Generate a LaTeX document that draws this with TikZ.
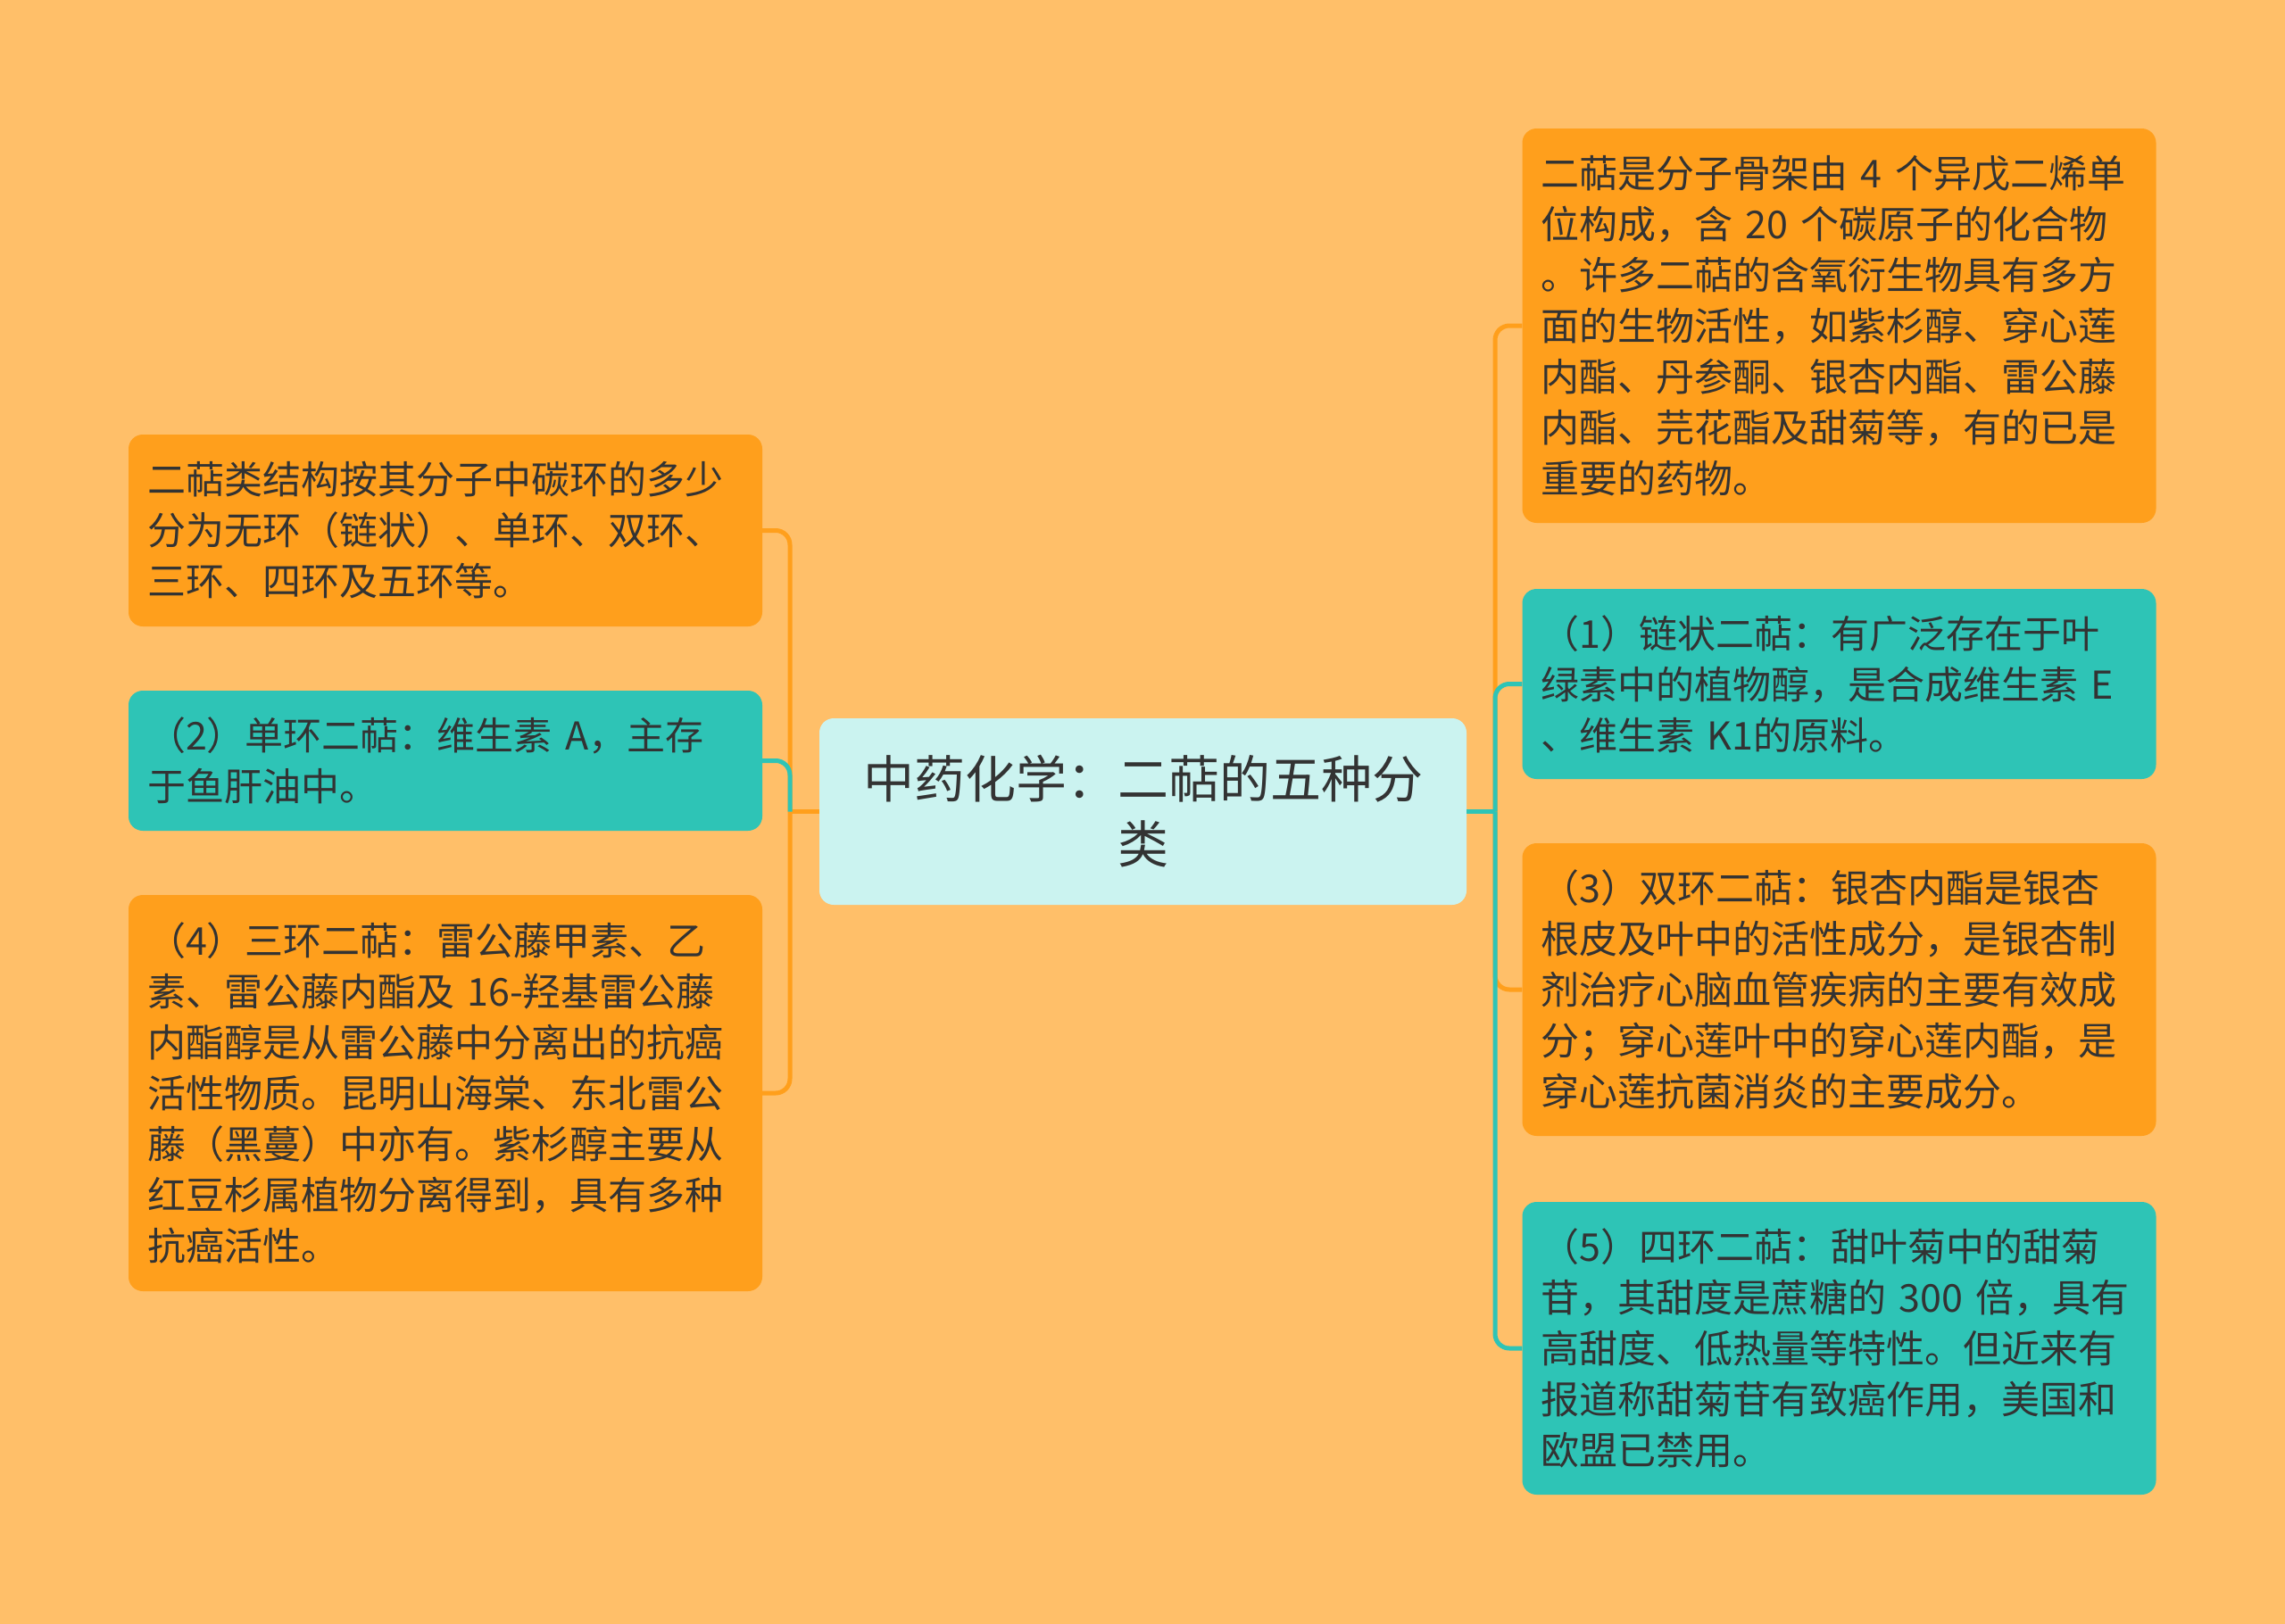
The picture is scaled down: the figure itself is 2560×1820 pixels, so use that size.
\documentclass[tikz,border=0pt]{standalone}
\usepackage{fontspec}
\setmainfont{Noto Sans CJK SC}
\usetikzlibrary{positioning}

\definecolor{bgorange}{HTML}{FFBF69}
\definecolor{boxorange}{HTML}{FF9F1C}
\definecolor{boxteal}{HTML}{2EC4B6}
\definecolor{topiccyan}{HTML}{CBF3F0}
\definecolor{textgray}{HTML}{333333}

\tikzset{
 box/.style={rounded corners=16pt,inner xsep=21pt,inner ysep=0pt,text width=668pt,align=left,text=textgray,font=\fontsize{43}{57}\selectfont},
 orangebox/.style={box,fill=boxorange},
 tealbox/.style={box,fill=boxteal},
 topic/.style={rounded corners=16pt,fill=topiccyan,minimum width=725pt,minimum height=209pt,align=center,text=textgray,font=\fontsize{57}{73}\selectfont},
 orangeline/.style={draw=boxorange,line width=5pt,rounded corners=16pt},
 tealline/.style={draw=boxteal,line width=5pt,rounded corners=16pt}
}

\begin{document}
\begin{tikzpicture}[x=1pt,y=-1pt]
 \useasboundingbox (0,0) rectangle (2560,1820);
 \fill[bgorange] (0,0) rectangle (2560,1820);

 \node[topic] (title) at (1280.5,909.5) {中药化学：二萜的五种分\\类};

 \node[orangebox,minimum height=215pt] (left1) at (499,594.5) {二萜类结构按其分子中碳环的多少\\分为无环（链状）、单环、双环、\\三环、四环及五环等。};
 \node[tealbox,minimum height=157pt] (left2) at (499,852.5) {（2）单环二萜：维生素 A，主存\\于鱼肝油中。};
 \node[orangebox,minimum height=444pt] (left3) at (499,1225) {（4）三环二萜：雷公藤甲素、乙\\素、雷公藤内酯及 16-羟基雷公藤\\内酯醇是从雷公藤中分离出的抗癌\\活性物质。昆明山海棠、东北雷公\\藤（黑蔓）中亦有。紫杉醇主要从\\红豆杉属植物分离得到，具有多种\\抗癌活性。};

 \node[orangebox,minimum height=442pt] (right1) at (2060.5,365) {二萜是分子骨架由 4 个异戊二烯单\\位构成，含 20 个碳原子的化合物\\。许多二萜的含氧衍生物具有多方\\面的生物活性，如紫杉醇、穿心莲\\内酯、丹参酮、银杏内酯、雷公藤\\内酯、芫花酯及甜菊等，有的已是\\重要的药物。};
 \node[tealbox,minimum height=213pt] (right2) at (2060.5,766.5) {（1）链状二萜：有广泛存在于叶\\绿素中的植物醇，是合成维生素 E\\、维生素 K1的原料。};
 \node[orangebox,minimum height=328pt] (right3) at (2060.5,1109) {（3）双环二萜：银杏内酯是银杏\\根皮及叶中的活性成分，是银杏制\\剂治疗心脑血管疾病的主要有效成\\分；穿心莲叶中的穿心莲内酯，是\\穿心莲抗菌消炎的主要成分。};
 \node[tealbox,minimum height=328pt] (right4) at (2060.5,1511) {（5）四环二萜：甜叶菊中的甜菊\\苷，其甜度是蔗糖的 300 倍，具有\\高甜度、低热量等特性。但近来有\\报道称甜菊苷有致癌作用，美国和\\欧盟已禁用。};

 % hubs on either side of the title
 \coordinate (lhub) at (885,909.5);
 \coordinate (rhub) at (1675,909.5);

 \draw[orangeline] (title.west) -- (lhub);
 \draw[orangeline] (lhub) |- (left1.east);
 \draw[orangeline] (lhub) |- (left3.east);
 \draw[tealline] (lhub) |- (left2.east);

 \draw[orangeline] (rhub) |- (right1.west);
 \draw[orangeline] (rhub) |- (right3.west);
 \draw[tealline] (title.east) -- (rhub);
 \draw[tealline] (rhub) |- (right2.west);
 \draw[tealline] (rhub) |- (right4.west);
\end{tikzpicture}
\end{document}
